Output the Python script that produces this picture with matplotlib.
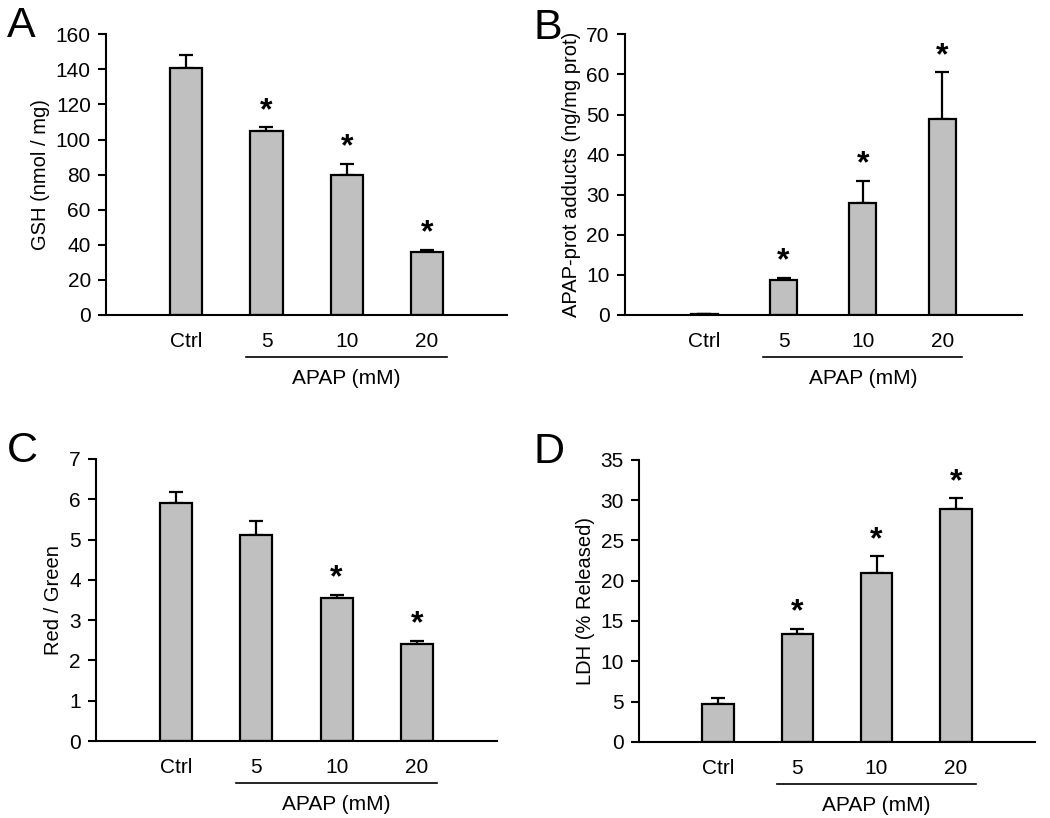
import numpy as np
import matplotlib.pyplot as plt

plt.rcParams['font.family'] = ['Liberation Sans', 'DejaVu Sans']

# group labels shared by all panels
groups = ["Ctrl", "5", "10", "20"]

# A: GSH
gsh_mean = [141, 105, 80, 36]
gsh_err = [7, 2, 6, 1]
gsh_sig = [False, True, True, True]

# B: APAP-protein adducts
adducts_mean = [0.3, 8.8, 28, 48.8]
adducts_err = [0, 0.5, 5.5, 11.7]
adducts_sig = [False, True, True, True]

# C: Red / Green ratio
rg_mean = [5.9, 5.1, 3.55, 2.4]
rg_err = [0.28, 0.35, 0.08, 0.08]
rg_sig = [False, False, True, True]

# D: LDH release
ldh_mean = [4.7, 13.4, 20.9, 28.9]
ldh_err = [0.7, 0.6, 2.1, 1.3]
ldh_sig = [False, True, True, True]


def bar_panel(ax, means, errs, sig, ylabel, ymax, ystep, width=0.4):
    x = np.arange(len(groups))
    ax.bar(x, means, width=width, color="#c0c0c0", edgecolor="black",
           linewidth=1.6, zorder=2)
    ax.errorbar(x, means, yerr=[np.zeros(len(errs)), errs], fmt="none",
                ecolor="black", elinewidth=1.6, capsize=5, capthick=1.6,
                zorder=1)
    for xi, m, e, s in zip(x, means, errs, sig):
        if s:
            ax.annotate("*", (xi, m + e), xytext=(0, 1),
                        textcoords="offset points", ha="center", va="bottom",
                        fontsize=23, fontweight="bold")

    ax.set_xlim(-1, 4)
    ax.set_ylim(0, ymax)
    ax.set_yticks(np.arange(0, ymax + ystep / 2, ystep))
    ax.set_xticks(x)
    ax.set_xticklabels(groups)
    ax.tick_params(axis="x", length=0, pad=12, labelsize=15)
    ax.tick_params(axis="y", length=6, width=1.5, pad=5, labelsize=15)
    ax.spines["top"].set_visible(False)
    ax.spines["right"].set_visible(False)
    ax.spines["left"].set_linewidth(1.5)
    ax.spines["bottom"].set_linewidth(1.5)
    ax.set_ylabel(ylabel, fontsize=14.5, labelpad=4)

    # underline + APAP label under the treated groups
    trans = ax.get_xaxis_transform()
    ax.plot([0.74, 3.25], [-0.15, -0.15], color="black", lw=1.2,
            transform=trans, clip_on=False)
    ax.text(2.0, -0.225, "APAP (mM)", transform=trans, ha="center",
            va="center", fontsize=15)


fig = plt.figure(figsize=(10.5, 8.18), dpi=100)

axA = fig.add_axes([0.101, 0.615, 0.382, 0.343])
axB = fig.add_axes([0.595, 0.615, 0.378, 0.343])
axC = fig.add_axes([0.0914, 0.094, 0.382, 0.345])
axD = fig.add_axes([0.6086, 0.093, 0.377, 0.345])

bar_panel(axA, gsh_mean, gsh_err, gsh_sig, "GSH (nmol / mg)", 160, 20)
bar_panel(axB, adducts_mean, adducts_err, adducts_sig,
          "APAP-prot adducts (ng/mg prot)", 70, 10, width=0.34)
bar_panel(axC, rg_mean, rg_err, rg_sig, "Red / Green", 7, 1)
bar_panel(axD, ldh_mean, ldh_err, ldh_sig, "LDH (% Released)", 35, 5)

fig.text(0.007, 0.968, "A", fontsize=31, va="center", ha="left")
fig.text(0.508, 0.966, "B", fontsize=31, va="center", ha="left")
fig.text(0.007, 0.449, "C", fontsize=31, va="center", ha="left")
fig.text(0.508, 0.447, "D", fontsize=31, va="center", ha="left")

fig.savefig("out.png", dpi=100)
